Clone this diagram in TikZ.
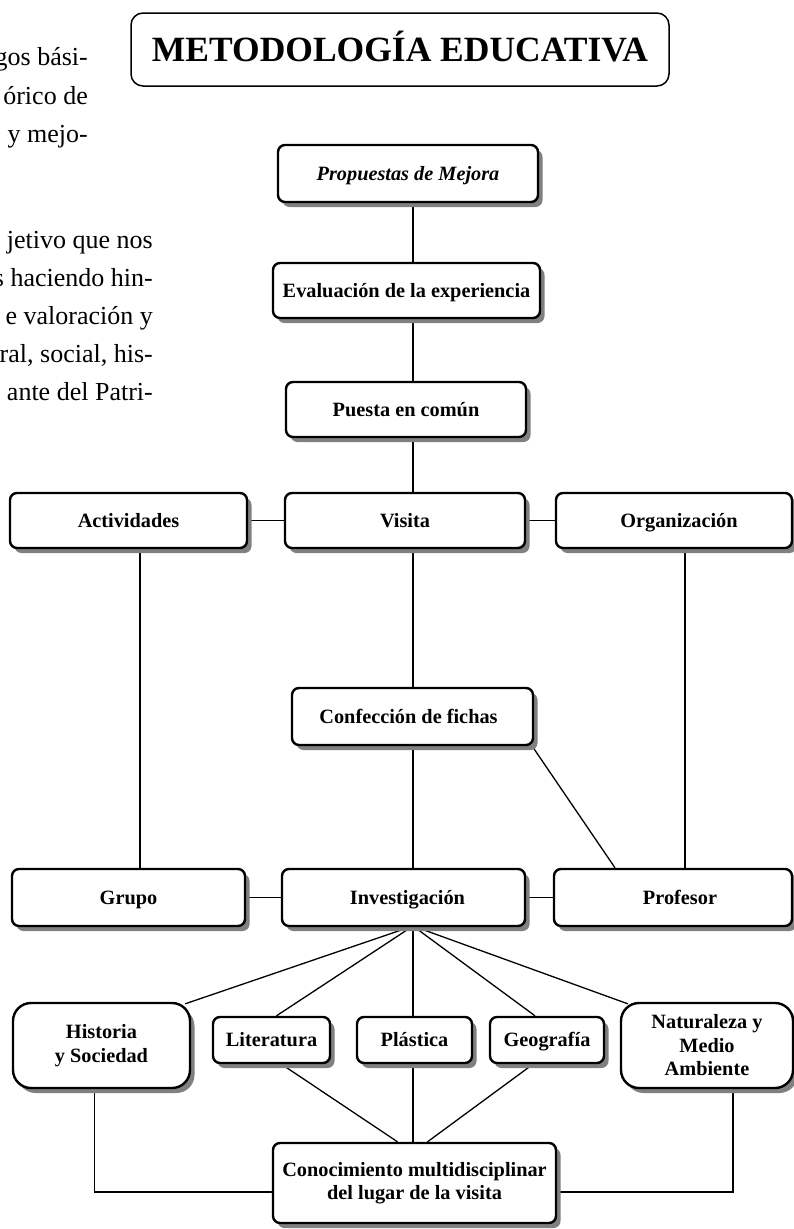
\documentclass[tikz,border=0pt]{standalone}
\usepackage{fontspec}
\setmainfont{Liberation Serif}
\usetikzlibrary{shadows,calc}
\pgfdeclarelayer{bg}
\pgfsetlayers{bg,main}
\tikzset{
  boxstyle/.style={draw, line width=2.4pt, rounded corners=7pt, fill=white, align=center,
    font=\bfseries\fontsize{20.3}{23.5}\selectfont, inner sep=0pt,
    drop shadow={shadow xshift=4.5pt, shadow yshift=-5pt, fill=black!50, opacity=1}},
  oneline/.style={text height=16pt, text depth=3pt},
  titlestyle/.style={draw, line width=1.5pt, rounded corners=12pt, fill=white, align=center,
    font=\bfseries\fontsize{35.5}{40}\selectfont, inner sep=0pt, text height=25pt, text depth=1pt},
  link/.style={line width=1.3pt},
  bodytext/.style={anchor=base east, inner sep=0pt, font=\fontsize{26}{30}\selectfont},
}
\newcommand\mkbox[7][]{%
  \node[boxstyle,#1,minimum width={(#5)-(#3)},minimum height={(#6)-(#4)}] (#2)
    at ({((#3)+(#5))/2},{((#4)+(#6))/2}) {#7};}
\begin{document}
\begin{tikzpicture}[x=1pt,y=-1pt]
\useasboundingbox (0,0) rectangle (794,1229);
% body text fragments
\node[bodytext] (t1) at (88,65) {gos bási-};
\node[bodytext] (t2) at (88,104) {órico de};
\node[bodytext] (t3) at (88,142) {y mejo-};
\node[bodytext] (t4) at (153,248) {jetivo que nos};
\node[bodytext] (t5) at (153,286) {s haciendo hin-};
\node[bodytext] (t6) at (153,324) {e valoración y};
\node[bodytext] (t7) at (153,362) {ral, social, his-};
\node[bodytext] (t8) at (153,400) {ante del Patri-};
% title
\node[titlestyle,minimum width=538,minimum height=73] (title) at (400,49.5) {METODOLOGÍA EDUCATIVA};
% boxes
\mkbox[oneline]{prop}{278}{145}{538}{202}{\itshape Propuestas de Mejora}
\mkbox[oneline]{eval}{273}{263}{540}{318}{Evaluación de la experiencia}
\mkbox[oneline]{puesta}{286}{382}{526}{437}{Puesta en común}
\mkbox[oneline]{act}{10}{493}{247}{548}{Actividades}
\mkbox[oneline]{visita}{285}{493}{525}{548}{Visita}
\mkbox[oneline]{org}{556}{493}{792}{548}{\hspace*{10pt}Organización}
\mkbox[oneline]{conf}{292}{688}{533}{745}{Confección de fichas\hspace*{8pt}}
\mkbox[oneline]{grupo}{12}{869}{245}{926}{Grupo}
\mkbox[oneline]{inv}{282}{869}{525}{926}{\hspace*{8pt}Investigación}
\mkbox[oneline]{prof}{554}{869}{792}{926}{\hspace*{14pt}Profesor}
\mkbox[rounded corners=18pt]{hist}{13}{1003}{190}{1088}{Historia\\y Sociedad}
\mkbox[oneline]{lit}{213}{1017}{330}{1063}{Literatura}
\mkbox[oneline]{plas}{357}{1017}{472}{1063}{Plástica}
\mkbox[oneline]{geo}{490}{1017}{604}{1063}{Geografía}
\mkbox[rounded corners=18pt]{nat}{621}{1003}{793}{1088}{Naturaleza y\\Medio\\Ambiente}
\mkbox{conoc}{273}{1143}{556}{1223}{Conocimiento multidisciplinar\\del lugar de la visita}
% connectors
\coordinate (sp) at (413,0);
\coordinate (cl) at (140,0);
\coordinate (cr) at (685,0);
\coordinate (cd) at (615,0);
\coordinate (fan) at (413,926);
\begin{pgfonlayer}{bg}
\draw[link] (prop.south -| sp) -- (eval.north -| sp);
\draw[link] (eval.south -| sp) -- (puesta.north -| sp);
\draw[link] (puesta.south -| sp) -- (visita.north -| sp);
\draw[link] (visita.south -| sp) -- (conf.north -| sp);
\draw[link] (conf.south -| sp) -- (inv.north -| sp);
\draw[link] (act.east) -- (visita.west);
\draw[link] (visita.east) -- (org.west);
\draw[link] (act.south -| cl) -- (grupo.north -| cl);
\draw[link] (org.south -| cr) -- (prof.north -| cr);
\draw[link] ($(conf.south east)+(-2,0)$) -- (prof.north -| cd);
\draw[link] (grupo.east) -- (inv.west);
\draw[link] (inv.east) -- (prof.west);
\draw[link] (fan) -- ($(hist.north east)+(-6,2)$);
\draw[link] (fan) -- ($(lit.north)+(5,0)$);
\draw[link] (fan) -- (plas.north -| sp);
\draw[link] (fan) -- ($(geo.north)+(-12,0)$);
\draw[link] (fan) -- ($(nat.north west)+(8,2)$);
\draw[link] ($(lit.south)+(10,0)$) -- ($(conoc.north)+(-17,0)$);
\draw[link] (plas.south -| sp) -- (conoc.north -| sp);
\draw[link] ($(geo.south)+(-14,0)$) -- ($(conoc.north)+(13,0)$);
\draw[link] ($(hist.south)+(-7,0)$) |- ($(conoc.west)+(0,9)$);
\draw[link] ($(nat.south)+(26,0)$) |- ($(conoc.east)+(0,9)$);
\end{pgfonlayer}
\end{tikzpicture}
\end{document}
